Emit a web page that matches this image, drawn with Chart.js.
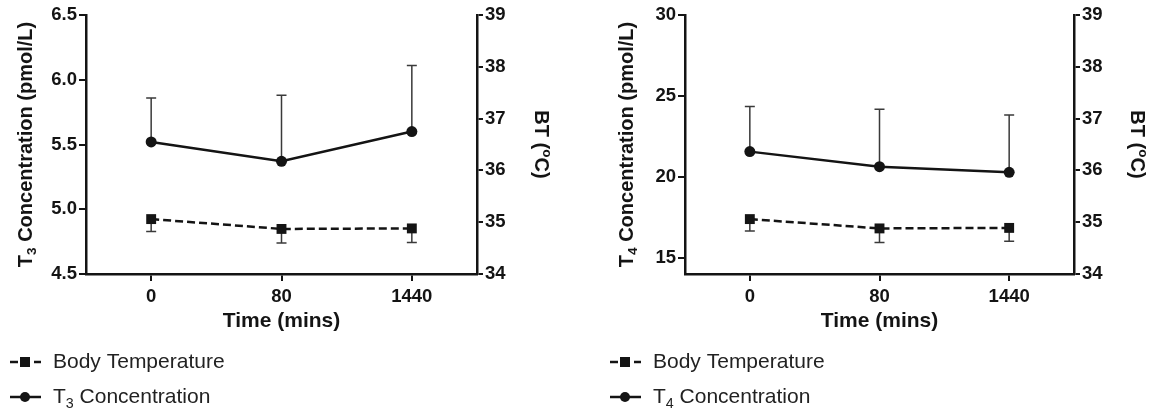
<!DOCTYPE html>
<html lang="en">
<head>
  <meta charset="UTF-8" />
  <title>T3 / T4 concentration and body temperature</title>
  <script src="https://cdn.jsdelivr.net/npm/chart.js@4.4.0/dist/chart.umd.min.js"></script>
  <style>
    body { margin: 0; background: #fff; }
    .wrap { display: flex; width: 1165px; height: 414px; }
    canvas { display: block; }
  </style>
</head>
<body>
  <div class="wrap">
    <canvas id="chartT3" width="582" height="414"></canvas>
    <canvas id="chartT4" width="583" height="414"></canvas>
  </div>

  <script>
    // data (mean, one-sided SD)
    const timeLabels = ['0', '80', '1440'];

    const t3Mean = [5.52, 5.37, 5.60];
    const t3Sd = [0.34, 0.51, 0.51];
    const bt1Mean = [35.06, 34.87, 34.88];
    const bt1Sd = [0.24, 0.27, 0.27];

    const t4Mean = [21.56, 20.63, 20.28];
    const t4Sd = [2.78, 3.54, 3.54];
    const bt2Mean = [35.06, 34.88, 34.89];
    const bt2Sd = [0.23, 0.27, 0.26];

    const t3Ticks = [4.5, 5.0, 5.5, 6.0, 6.5];
    const t4Ticks = [15, 20, 25, 30];
    const btTicks = [34, 35, 36, 37, 38, 39];

    const FONT = '"Liberation Sans", Arial, Helvetica, sans-serif';
    const INK = '#141414';

    // draw text made of segments, some of them sub/superscript
    function richWidth(ctx, segs, size, weight) {
      let w = 0;
      segs.forEach(s => {
        const fs = s.sub || s.sup ? size * 0.68 : size;
        ctx.font = weight + ' ' + fs + 'px ' + FONT;
        w += ctx.measureText(s.t).width;
      });
      return w;
    }
    function drawRich(ctx, segs, x, y, size, weight, align) {
      const w = richWidth(ctx, segs, size, weight);
      let cx = align === 'left' ? x : x - w / 2;
      ctx.textAlign = 'left';
      ctx.textBaseline = 'middle';
      segs.forEach(s => {
        const fs = s.sub || s.sup ? size * 0.68 : size;
        ctx.font = weight + ' ' + fs + 'px ' + FONT;
        let dy = 0;
        if (s.sub) dy = size * 0.32;
        if (s.sup) dy = -size * 0.3;
        ctx.fillText(s.t, cx, y + dy);
        cx += ctx.measureText(s.t).width;
      });
    }

    const errorBars = {
      id: 'errorBars',
      beforeDatasetsDraw(chart) {
        const ctx = chart.ctx;
        chart.data.datasets.forEach((ds, i) => {
          if (!ds.err) return;
          const meta = chart.getDatasetMeta(i);
          const scale = chart.scales[ds.yAxisID];
          ctx.save();
          ctx.strokeStyle = '#3a3a3a';
          ctx.lineWidth = 1.5;
          meta.data.forEach((pt, j) => {
            const yEnd = scale.getPixelForValue(ds.data[j] + ds.errDir * ds.err[j]);
            ctx.beginPath();
            ctx.moveTo(pt.x, pt.y);
            ctx.lineTo(pt.x, yEnd);
            ctx.moveTo(pt.x - 5, yEnd);
            ctx.lineTo(pt.x + 5, yEnd);
            ctx.stroke();
          });
          ctx.restore();
        });
      }
    };

    const labelsPlugin = {
      id: 'labelsPlugin',
      afterDraw(chart) {
        const o = chart.options.plugins.labelsPlugin;
        const ctx = chart.ctx;
        const a = chart.chartArea;
        const midY = (a.top + a.bottom) / 2;
        ctx.save();
        ctx.fillStyle = INK;

        // left axis title
        ctx.save();
        ctx.translate(o.leftTitleX, midY);
        ctx.rotate(-Math.PI / 2);
        drawRich(ctx, o.leftTitle, 0, 0, 20, 'bold', 'center');
        ctx.restore();

        // right axis title
        ctx.save();
        ctx.translate(o.rightTitleX, midY);
        ctx.rotate(Math.PI / 2);
        drawRich(ctx, [{ t: 'BT (' }, { t: 'o', sup: true }, { t: 'C)' }], 0, 0, 20, 'bold', 'center');
        ctx.restore();

        // x axis title
        drawRich(ctx, [{ t: 'Time (mins)' }], (a.left + a.right) / 2, 321, 21, 'bold', 'center');

        // legend
        const lx = o.legendX;
        const rows = [
          { y: 362, dashed: true, square: true, text: [{ t: 'Body Temperature' }] },
          { y: 397, dashed: false, square: false, text: o.legendConc }
        ];
        rows.forEach(r => {
          ctx.save();
          ctx.strokeStyle = INK;
          ctx.lineWidth = 2.5;
          ctx.setLineDash(r.dashed ? [8, 4] : []);
          ctx.beginPath();
          ctx.moveTo(lx, r.y);
          ctx.lineTo(lx + 31, r.y);
          ctx.stroke();
          ctx.setLineDash([]);
          ctx.fillStyle = INK;
          if (r.square) {
            ctx.fillRect(lx + 10, r.y - 5, 10, 10);
          } else {
            ctx.beginPath();
            ctx.arc(lx + 15, r.y, 5, 0, Math.PI * 2);
            ctx.fill();
          }
          ctx.restore();
          ctx.fillStyle = '#222';
          drawRich(ctx, r.text, lx + 43, r.y, 21, 'normal', 'left');
        });
        ctx.restore();
      }
    };

    function axisStyle(tickLen) {
      return {
        grid: { drawOnChartArea: false, drawTicks: true, tickLength: tickLen, color: INK, lineWidth: 2 },
        border: { display: true, color: INK, width: 2.5 }
      };
    }

    function makeChart(id, cfg) {
      const tickFont = { family: FONT, size: 18.5, weight: 'bold' };
      return new Chart(document.getElementById(id), {
        type: 'line',
        data: {
          labels: timeLabels,
          datasets: [
            {
              label: 'Body Temperature',
              data: cfg.btMean,
              err: cfg.btSd,
              errDir: -1,
              yAxisID: 'yR',
              borderColor: INK,
              borderWidth: 2.5,
              borderDash: [8, 4],
              pointStyle: 'rect',
              pointRadius: 7,
              pointBackgroundColor: INK,
              pointBorderWidth: 0,
              tension: 0
            },
            {
              label: cfg.concName,
              data: cfg.concMean,
              err: cfg.concSd,
              errDir: 1,
              yAxisID: 'yL',
              borderColor: INK,
              borderWidth: 2.5,
              pointStyle: 'circle',
              pointRadius: 5.5,
              pointBackgroundColor: INK,
              pointBorderWidth: 0,
              tension: 0
            }
          ]
        },
        options: {
          responsive: false,
          animation: false,
          devicePixelRatio: 1,
          layout: { padding: { top: 15, left: 0, right: 0, bottom: 0 } },
          plugins: {
            legend: { display: false },
            tooltip: { enabled: false },
            labelsPlugin: cfg.labels
          },
          scales: {
            x: {
              type: 'category',
              offset: true,
              ...axisStyle(7),
              ticks: { font: tickFont, color: INK, padding: 5, maxRotation: 0 },
              afterFit: s => { s.height = 140; }
            },
            yL: {
              position: 'left',
              min: cfg.concMin,
              max: cfg.concMax,
              ...axisStyle(7),
              afterBuildTicks: s => { s.ticks = cfg.concTicks.map(v => ({ value: v })); },
              ticks: { font: tickFont, color: INK, padding: 2, callback: cfg.concFmt },
              afterFit: s => { s.width = cfg.leftW; }
            },
            yR: {
              position: 'right',
              min: 34,
              max: 39,
              ...axisStyle(6),
              afterBuildTicks: s => { s.ticks = btTicks.map(v => ({ value: v })); },
              ticks: { font: tickFont, color: INK, padding: 2 },
              afterFit: s => { s.width = cfg.rightW; }
            }
          }
        },
        plugins: [errorBars, labelsPlugin]
      });
    }

    makeChart('chartT3', {
      concName: 'T3 Concentration',
      concMean: t3Mean, concSd: t3Sd,
      btMean: bt1Mean, btSd: bt1Sd,
      concMin: 4.5, concMax: 6.5, concTicks: t3Ticks,
      concFmt: v => Number(v).toFixed(1),
      leftW: 86, rightW: 105,
      labels: {
        leftTitleX: 26, rightTitleX: 541, legendX: 10,
        leftTitle: [{ t: 'T' }, { t: '3', sub: true }, { t: ' Concentration (pmol/L)' }],
        legendConc: [{ t: 'T' }, { t: '3', sub: true }, { t: ' Concentration' }]
      }
    });

    makeChart('chartT4', {
      concName: 'T4 Concentration',
      concMean: t4Mean, concSd: t4Sd,
      btMean: bt2Mean, btSd: bt2Sd,
      concMin: 14, concMax: 30, concTicks: t4Ticks,
      concFmt: v => String(v),
      leftW: 103, rightW: 91,
      labels: {
        leftTitleX: 45, rightTitleX: 555, legendX: 28,
        leftTitle: [{ t: 'T' }, { t: '4', sub: true }, { t: ' Concentration (pmol/L)' }],
        legendConc: [{ t: 'T' }, { t: '4', sub: true }, { t: ' Concentration' }]
      }
    });
  </script>
</body>
</html>
